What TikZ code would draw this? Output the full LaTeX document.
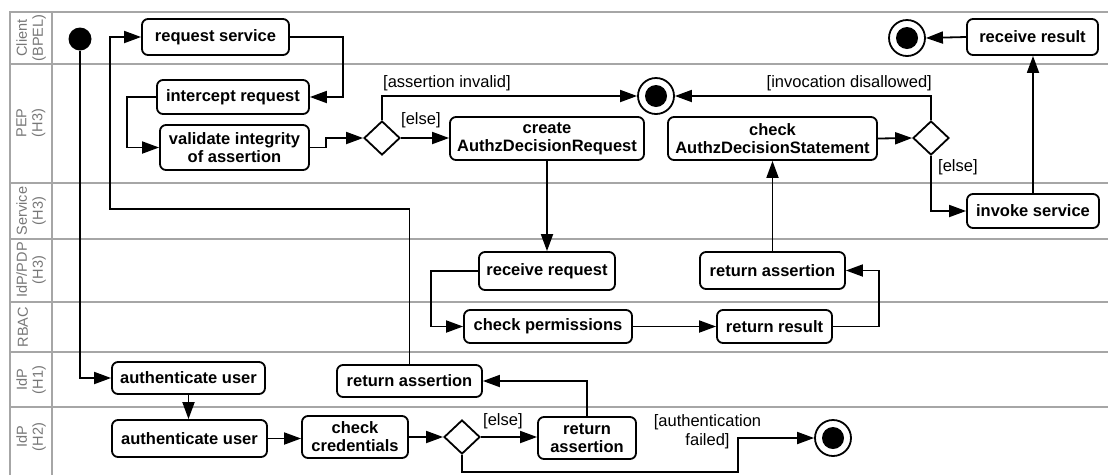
\documentclass[tikz,border=0pt]{standalone}
\usepackage{fontspec}
\setmainfont{Liberation Sans}
\usetikzlibrary{arrows.meta,shapes.geometric}
\definecolor{lanegray}{HTML}{A6A6A6}
\definecolor{labgray}{HTML}{777777}
\tikzset{
  act/.style={draw, rounded corners=6pt, line width=1.8pt, align=center, inner sep=0pt,
    font=\bfseries\fontsize{16.5}{18}\selectfont},
  dec/.style={draw, diamond, line width=1.8pt, inner sep=0pt, minimum width=36pt, minimum height=34pt, aspect=1.06},
  fin/.style={draw, circle, line width=1.8pt, minimum size=36pt, inner sep=0pt,
    path picture={\fill (path picture bounding box.center) circle (11pt);}},
  ini/.style={fill, circle, minimum size=23pt, inner sep=0pt},
  flow/.style={line width=1.8pt, -{Triangle[length=17pt,width=12pt]}},
  guard/.style={font=\fontsize{16.5}{19}\selectfont, inner sep=0pt},
  lane/.style={draw=lanegray, line width=1.6pt},
  lanelab/.style={text=labgray, rotate=90, align=center, inner sep=0pt,
    font=\fontsize{14.5}{16}\selectfont},
}
\begin{document}
\begin{tikzpicture}[x=1pt,y=-1pt]
\useasboundingbox (0,0) rectangle (1108,475);
% swimlanes
\draw[lane] (10,475) -- (10,12) -- (1108,12);
\draw[lane] (52,12) -- (52,475);
\foreach \yy in {64,183,239,302,352,407} {\draw[lane] (10,\yy) -- (1108,\yy);}
\node[lanelab] (l1) at (31,38) {Client\\(BPEL)};
\node[lanelab] (l2) at (31,123) {PEP\\(H3)};
\node[lanelab] (l3) at (31,211) {Service\\(H3)};
\node[lanelab] (l4) at (31,270) {IdP/PDP\\(H3)};
\node[lanelab] (l5) at (23,327) {RBAC};
\node[lanelab] (l6) at (31,380) {IdP\\(H1)};
\node[lanelab] (l7) at (31,437) {IdP\\(H2)};

% nodes
\node[ini] (i0) at (80,39) {};
\node[act, minimum width=147pt, minimum height=36pt] (rs) at (215.5,37) {request service};
\node[act, minimum width=152pt, minimum height=34pt] (ir) at (233,97) {intercept request};
\node[act, minimum width=149pt, minimum height=45pt] (vi) at (234.5,147.5) {validate integrity\\of assertion};
\node[dec] (d1) at (382,138) {};
\node[act, minimum width=194pt, minimum height=43pt] (cr) at (547,138.5) {create\\AuthzDecisionRequest};
\node[fin] (f1) at (656,96) {};
\node[act, minimum width=209pt, minimum height=43pt] (cs) at (772.5,138.5) {check\\AuthzDecisionStatement};
\node[dec] (d2) at (931,138) {};
\node[fin] (f0) at (907,38) {};
\node[act, minimum width=131pt, minimum height=36pt] (rr) at (1032.5,37) {receive result};
\node[act, minimum width=132pt, minimum height=34pt] (is) at (1033,211) {invoke service};
\node[act, minimum width=136pt, minimum height=38pt] (rq) at (547,271) {receive request};
\node[act, minimum width=145pt, minimum height=37pt] (ra3) at (772.5,270.5) {return assertion};
\node[act, minimum width=168pt, minimum height=33pt] (cp) at (548,326.5) {check permissions};
\node[act, minimum width=115pt, minimum height=33pt] (rres) at (774.5,326.5) {return result};
\node[act, minimum width=153pt, minimum height=32pt] (au1) at (188.5,378) {authenticate user};
\node[act, minimum width=145pt, minimum height=32pt] (ra1) at (409.5,381) {return assertion};
\node[act, minimum width=155pt, minimum height=37pt] (au2) at (189.5,438.5) {authenticate user};
\node[act, minimum width=106pt, minimum height=42pt] (cc) at (355,437) {check\\credentials};
\node[dec] (d3) at (462,437) {};
\node[act, minimum width=98pt, minimum height=42pt] (ra2) at (587,438) {return\\assertion};
\node[fin] (f2) at (833,438) {};

% helper coordinates
\coordinate (c1) at (738,472);
\coordinate (c2) at (110,209);

% flows
\draw[flow] (i0) |- (au1.west);
\draw[flow] (au1.south) -- (au1.south |- au2.north);
\draw[flow] (au2.east) -- (au2.east -| cc.west);
\draw[flow] (cc.east |- d3.west) -- (d3.west);
\draw[flow] (d3.east) -- (d3.east -| ra2.west);
\node[guard, anchor=west] (g1) at (483,421) {[else]};
\draw[flow] (d3.south) |- (c1) |- (f2.west);
\node[guard, align=center] (g2) at (707.5,432) {[authentication\\failed]};
\draw[flow] (ra2.north) |- (ra1.east);
\draw[flow] (ra1.north) |- (c2) |- (rs.west);
\draw[flow] (rs.east) -- ++(53,0) |- (ir.east);
\draw[flow] (ir.west) -- ++(-29,0) |- (vi.west);
\draw[flow] (vi.east) -- ++(16,0) |- (d1.west);
\draw[flow] (d1.north) |- (f1.west);
\node[guard, anchor=west] (g3) at (383,83) {[assertion invalid]};
\draw[flow] (d1.east) -- (d1.east -| cr.west);
\node[guard, anchor=west] (g4) at (401,120) {[else]};
\draw[flow] (cr.south) -- (cr.south |- rq.north);
\draw[flow] (rq.west) -- ++(-47,0) |- (cp.west);
\draw[flow] (cp.east) -- (cp.east -| rres.west);
\draw[flow] (rres.east) -- ++(46,0) |- (ra3.east);
\draw[flow] (ra3.north) -- (ra3.north |- cs.south);
\draw[flow] (cs.east) -- (d2.west);
\draw[flow] (d2.north) |- (f1.east);
\node[guard, anchor=east] (g5) at (932,83) {[invocation disallowed]};
\draw[flow] (d2.south) |- (is.west);
\node[guard, anchor=west] (g6) at (938,167) {[else]};
\draw[flow] (is.north) -- (is.north |- rr.south);
\draw[flow] (rr.west) -- (f0.east);
\end{tikzpicture}
\end{document}
